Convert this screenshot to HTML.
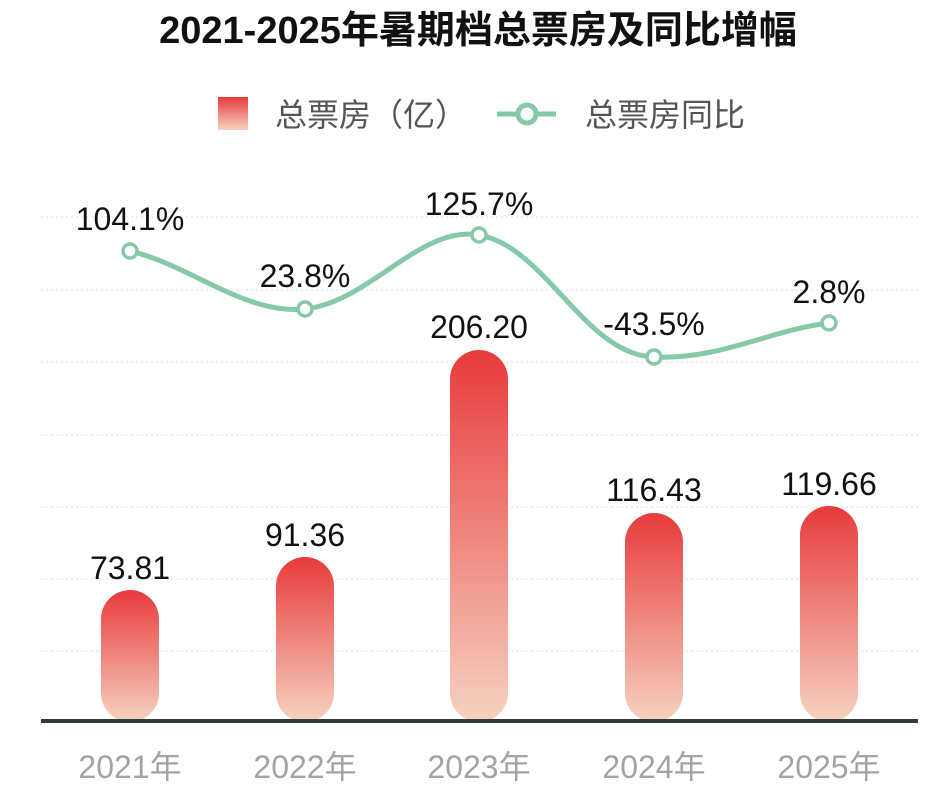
<!DOCTYPE html>
<html><head><meta charset="utf-8"><style>
body{margin:0;background:#fff;width:941px;height:788px;overflow:hidden}
text{font-family:"Liberation Sans","Noto Sans CJK SC",sans-serif}
</style></head><body>
<svg width="941" height="788" viewBox="0 0 941 788">
<defs>
<linearGradient id="g" x1="0" y1="0" x2="0" y2="1">
<stop offset="0" stop-color="#e83a3c"/><stop offset="1" stop-color="#f6d2c0"/>
</linearGradient>
</defs>
<text x="478" y="43" font-size="38" font-weight="bold" text-anchor="middle" fill="#111">2021-2025年暑期档总票房及同比增幅</text>
<rect x="218" y="97" width="30" height="33" fill="url(#g)"/>
<text x="275" y="126" font-size="32" fill="#555">总票房（亿）</text>
<line x1="497" y1="114" x2="556" y2="114" stroke="#86c9a8" stroke-width="5"/>
<circle cx="527" cy="114" r="9" fill="#fff" stroke="#86c9a8" stroke-width="5"/>
<text x="585" y="126" font-size="32" fill="#555">总票房同比</text>
<g stroke="#ddd" stroke-dasharray="2,3" stroke-width="1">
<line x1="41" y1="217" x2="918" y2="217"/><line x1="41" y1="290" x2="918" y2="290"/>
<line x1="41" y1="362" x2="918" y2="362"/><line x1="41" y1="435" x2="918" y2="435"/>
<line x1="41" y1="507" x2="918" y2="507"/><line x1="41" y1="579" x2="918" y2="579"/>
<line x1="41" y1="651" x2="918" y2="651"/>
</g>
<g fill="url(#g)">
<rect x="101" y="590" width="58" height="132" rx="29"/>
<rect x="276" y="557" width="58" height="165" rx="29"/>
<rect x="450" y="350" width="58" height="372" rx="29"/>
<rect x="625" y="513" width="58" height="209" rx="29"/>
<rect x="800" y="506" width="58" height="216" rx="29"/>
</g>
<line x1="41" y1="721" x2="918" y2="721" stroke="#2f3d3d" stroke-width="4"/>
<g font-size="32" fill="#111" text-anchor="middle">
<text x="130" y="579">73.81</text><text x="305" y="546">91.36</text>
<text x="479" y="338">206.20</text><text x="654" y="501">116.43</text>
<text x="829" y="495">119.66</text>
<text x="130" y="230">104.1%</text><text x="305" y="287">23.8%</text>
<text x="479" y="215">125.7%</text><text x="654" y="335">-43.5%</text>
<text x="829" y="303">2.8%</text>
</g>
<path d="M130,251 C190,265 245,315 305,309 C370,302 420,225 479,235 C545,246 585,355 654,357 C720,360 770,330 829,323" fill="none" stroke="#86c9a8" stroke-width="5"/>
<g fill="#fff" stroke="#86c9a8" stroke-width="3.5">
<circle cx="130" cy="251" r="7"/><circle cx="305" cy="309" r="7"/><circle cx="479" cy="235" r="7"/><circle cx="654" cy="357" r="7"/><circle cx="829" cy="323" r="7"/>
</g>
<g font-size="32" fill="#a3a3a3" text-anchor="middle">
<text x="130" y="778">2021年</text><text x="305" y="778">2022年</text><text x="479" y="778">2023年</text><text x="654" y="778">2024年</text><text x="829" y="778">2025年</text>
</g>
</svg>
</body></html>
